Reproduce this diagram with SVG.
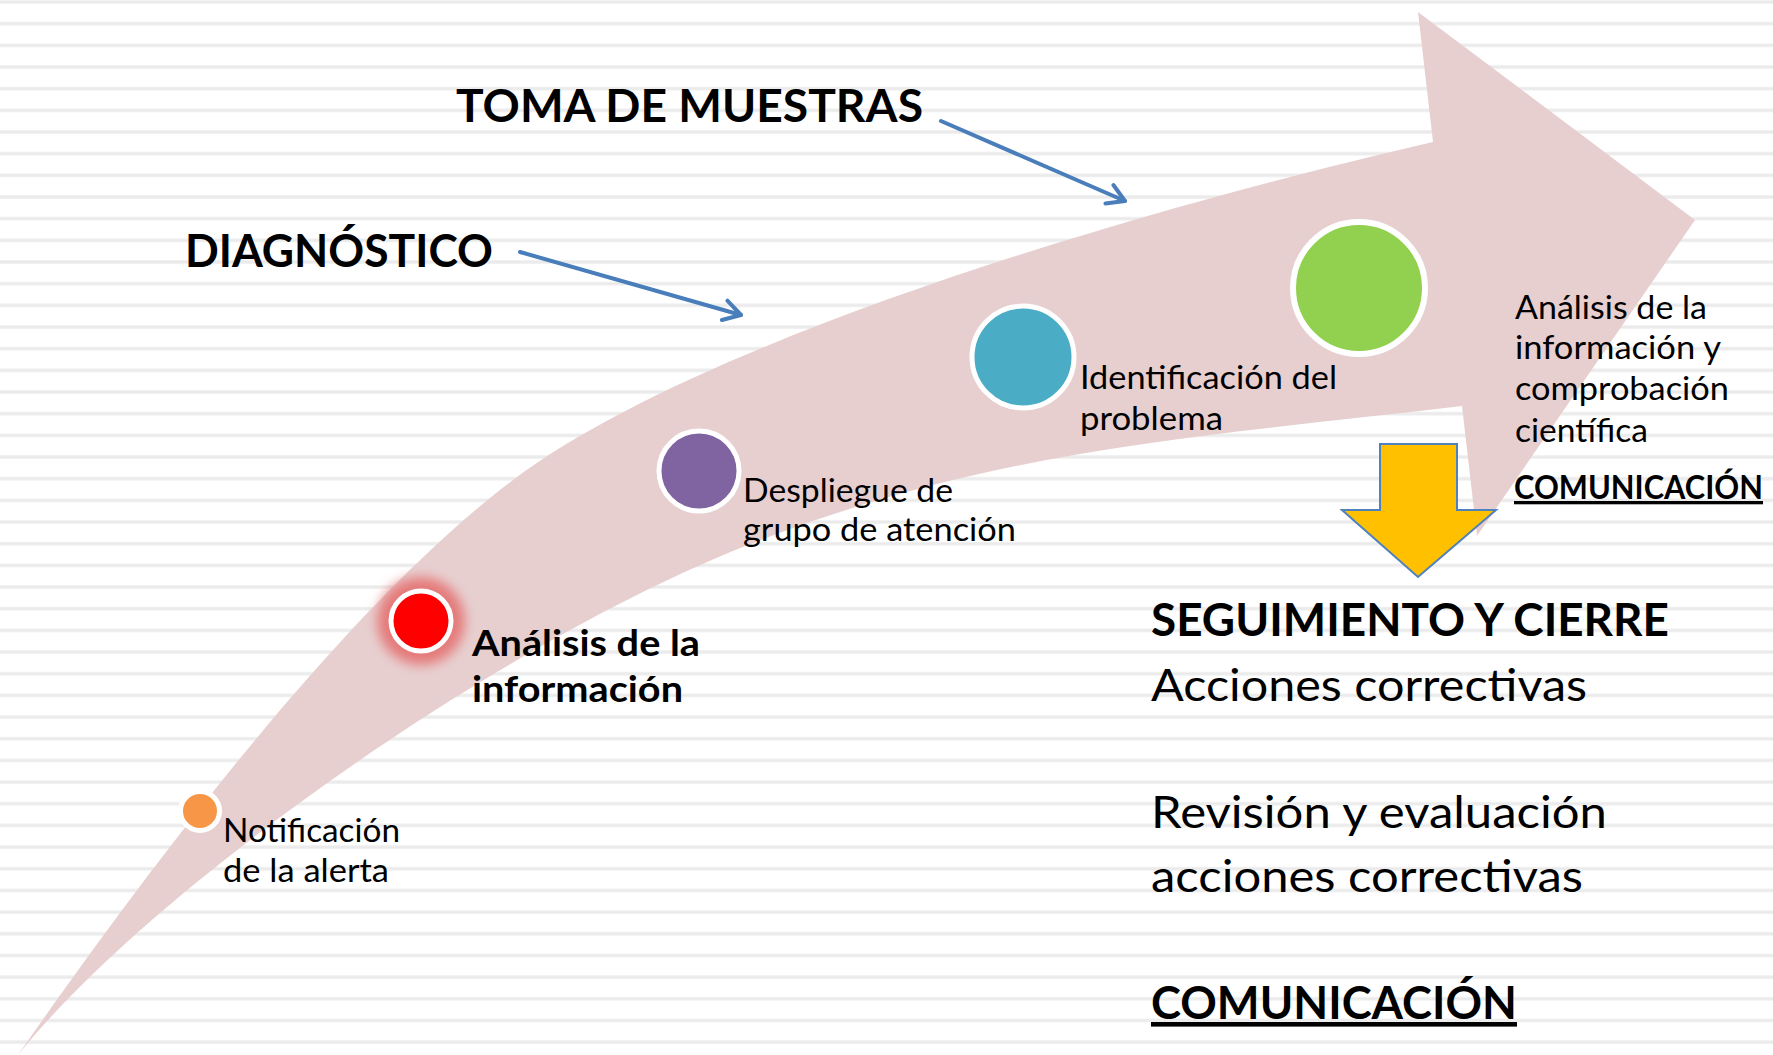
<svg xmlns="http://www.w3.org/2000/svg" width="1773" height="1055" viewBox="0 0 1773 1055">
<defs>
<style>
.t{font-family:Lato,"Liberation Sans",sans-serif;fill:#000}
.b{font-weight:700}
.s33{font-size:33px}
.s36{font-size:36px}
.s45{font-size:45px}
.s46{font-size:46px}
.u{text-decoration:underline}
.ring{stroke:#fff;stroke-width:5}
.conn{fill:none;stroke:#4a7ebb;stroke-width:4;stroke-linecap:round}
</style>
<pattern id="stripes" x="0" y="0" width="40" height="21.67" patternUnits="userSpaceOnUse">
<rect x="0" y="0" width="40" height="4" fill="#f3f3f3"/>
<rect x="0" y="0.8" width="40" height="2.4" fill="#ebebeb"/>
</pattern>
<filter id="glow" x="-50%" y="-50%" width="200%" height="200%">
<feGaussianBlur stdDeviation="6"/>
</filter>
<marker id="open" viewBox="-22 -14 26 28" refX="0" refY="0" markerWidth="26" markerHeight="28" markerUnits="userSpaceOnUse" orient="auto">
<path d="M-17,-10 L0,0 L-17,10" fill="none" stroke="#4a7ebb" stroke-width="4" stroke-linecap="round" stroke-linejoin="round"/>
</marker>
</defs>
<rect x="0" y="0" width="1773" height="1055" fill="#fff"/>
<rect x="0" y="0" width="1773" height="1055" fill="url(#stripes)"/>

<g id="curved-arrow">
<path d="M18,1055 C140,880 340,610 513,480 C700,340 1133,211 1433,142 L1418,12 L1695,220 L1477,536 L1462,406 C1212,436 993,447 743,547 C493,647 150,890 18,1055 Z" fill="#e7cfd0"/>
</g>

<g id="connectors">
<line class="conn" x1="941" y1="121" x2="1125" y2="201" marker-end="url(#open)"/>
<line class="conn" x1="520" y1="252" x2="741" y2="315" marker-end="url(#open)"/>
</g>

<g id="label-toma">
<text class="t b s46" x="456" y="122" textLength="467" lengthAdjust="spacingAndGlyphs">TOMA DE MUESTRAS</text>
</g>
<g id="label-diagnostico">
<text class="t b s46" x="185" y="267" textLength="308" lengthAdjust="spacingAndGlyphs">DIAGNÓSTICO</text>
</g>

<g id="node-notificacion">
<circle class="ring" cx="200" cy="811" r="19.5" fill="#f79646"/>
<text class="t s33" x="223" y="842" textLength="177" lengthAdjust="spacingAndGlyphs">Notificación</text>
<text class="t s33" x="223" y="882" textLength="166" lengthAdjust="spacingAndGlyphs">de la alerta</text>
</g>

<g id="node-analisis">
<circle cx="421" cy="621" r="44" fill="#e57a7a" filter="url(#glow)"/>
<circle class="ring" cx="421" cy="621" r="30" fill="#ff0000"/>
<text class="t b s36" x="472" y="656" textLength="228" lengthAdjust="spacingAndGlyphs">Análisis de la</text>
<text class="t b s36" x="472" y="702" textLength="211" lengthAdjust="spacingAndGlyphs">información</text>
</g>

<g id="node-despliegue">
<circle class="ring" cx="699" cy="471" r="40" fill="#8064a2"/>
<text class="t s33" x="743" y="502" textLength="210" lengthAdjust="spacingAndGlyphs">Despliegue de</text>
<text class="t s33" x="743" y="541" textLength="273" lengthAdjust="spacingAndGlyphs">grupo de atención</text>
</g>

<g id="node-identificacion">
<circle class="ring" cx="1023" cy="357" r="51" fill="#4bacc6"/>
<text class="t s33" x="1080" y="389" textLength="257" lengthAdjust="spacingAndGlyphs">Identificación del</text>
<text class="t s33" x="1080" y="430" textLength="143" lengthAdjust="spacingAndGlyphs">problema</text>
</g>

<g id="node-comprobacion">
<circle cx="1359" cy="288" r="66" fill="#92d050" stroke="#fff" stroke-width="6"/>
<text class="t s33" x="1515" y="319" textLength="192" lengthAdjust="spacingAndGlyphs">Análisis de la</text>
<text class="t s33" x="1515" y="359" textLength="206" lengthAdjust="spacingAndGlyphs">información y</text>
<text class="t s33" x="1515" y="400" textLength="214" lengthAdjust="spacingAndGlyphs">comprobación</text>
<text class="t s33" x="1515" y="442" textLength="133" lengthAdjust="spacingAndGlyphs">científica</text>
<text class="t b s33 u" x="1514" y="499" textLength="249" lengthAdjust="spacingAndGlyphs">COMUNICACIÓN</text>
</g>

<g id="down-arrow">
<path d="M1380,444 H1457 V510 H1496 L1418,577 L1342,510 H1380 Z" fill="#ffc000" stroke="#4f81bd" stroke-width="2"/>
</g>

<g id="node-seguimiento">
<text class="t b s46" x="1151" y="636" textLength="518" lengthAdjust="spacingAndGlyphs">SEGUIMIENTO Y CIERRE</text>
<text class="t s45" x="1151" y="701" textLength="436" lengthAdjust="spacingAndGlyphs">Acciones correctivas</text>
<text class="t s45" x="1151" y="828" textLength="456" lengthAdjust="spacingAndGlyphs">Revisión y evaluación</text>
<text class="t s45" x="1151" y="892" textLength="432" lengthAdjust="spacingAndGlyphs">acciones correctivas</text>
<text class="t b s46 u" x="1151" y="1019" textLength="366" lengthAdjust="spacingAndGlyphs">COMUNICACIÓN</text>
</g>
</svg>
